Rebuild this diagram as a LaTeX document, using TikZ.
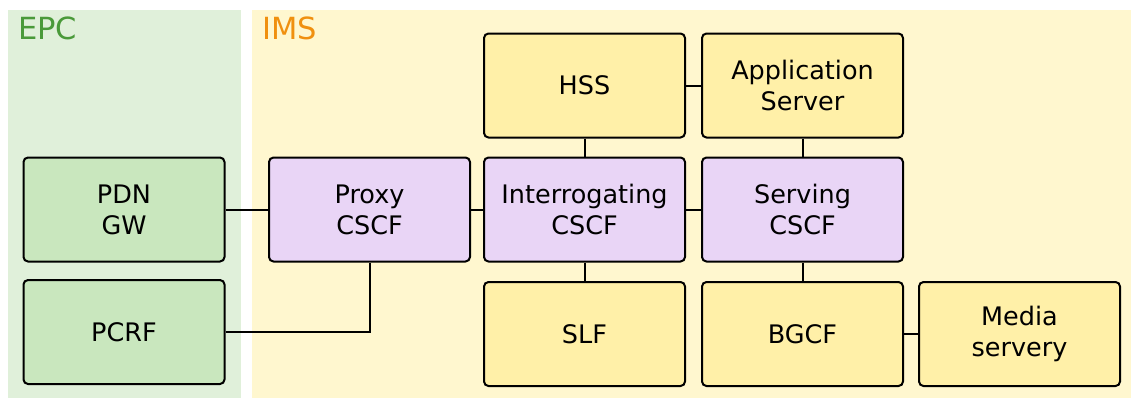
\documentclass[tikz,border=0pt]{standalone}
\usepackage{fontspec}
\setmainfont{DejaVu Sans}
\definecolor{epcbg}{HTML}{E0F0DA}
\definecolor{imsbg}{HTML}{FFF7CF}
\definecolor{greenbox}{HTML}{C9E7BE}
\definecolor{purplebox}{HTML}{E9D5F6}
\definecolor{yellowbox}{HTML}{FFF0A8}
\definecolor{epctxt}{HTML}{4A9A3A}
\definecolor{imstxt}{HTML}{F0900F}
\begin{document}
\begin{tikzpicture}[x=1pt,y=1pt,
  box/.style={draw=black, line width=2pt, rounded corners=4.5pt, minimum width=201pt, minimum height=104pt, align=center, font=\fontsize{25.5}{31}\selectfont, inner sep=0pt},
  gbox/.style={box, fill=greenbox},
  pbox/.style={box, fill=purplebox},
  ybox/.style={box, fill=yellowbox},
  link/.style={draw=black, line width=2pt},
  region/.style={font=\fontsize{30.5}{36}\selectfont, anchor=north west, inner sep=0pt}]
\useasboundingbox (0,0) rectangle (1131,-399);
\fill[epcbg] (8,-10) rectangle (241,-398);
\fill[imsbg] (252,-10) rectangle (1131,-398);
\node[region, text=epctxt] (epc) at (18,-17) {EPC};
\node[region, text=imstxt] (ims) at (262,-17) {IMS};

\node[gbox] (pdn) at (124,-209.5) {PDN\\GW};
\node[gbox] (pcrf) at (124,-332) {PCRF};
\node[pbox] (proxy) at (369.5,-209.5) {Proxy\\CSCF};
\node[ybox] (hss) at (584.5,-85.5) {HSS};
\node[ybox] (app) at (802.5,-85.5) {Application\\Server};
\node[pbox] (icscf) at (584.5,-209.5) {Interrogating\\CSCF};
\node[pbox] (scscf) at (802.5,-209.5) {Serving\\CSCF};
\node[ybox] (slf) at (584.5,-334) {SLF};
\node[ybox] (bgcf) at (802.5,-334) {BGCF};
\node[ybox] (media) at (1019.5,-334) {Media\\servery};

\draw[link] (pdn) -- (proxy);
\draw[link] (proxy) -- (icscf);
\draw[link] (icscf) -- (scscf);
\draw[link] (hss) -- (app);
\draw[link] (hss) -- (icscf);
\draw[link] (app) -- (scscf);
\draw[link] (icscf) -- (slf);
\draw[link] (scscf) -- (bgcf);
\draw[link] (bgcf) -- (media);
\draw[link] (pcrf.east) -| (proxy.south);
\end{tikzpicture}
\end{document}
